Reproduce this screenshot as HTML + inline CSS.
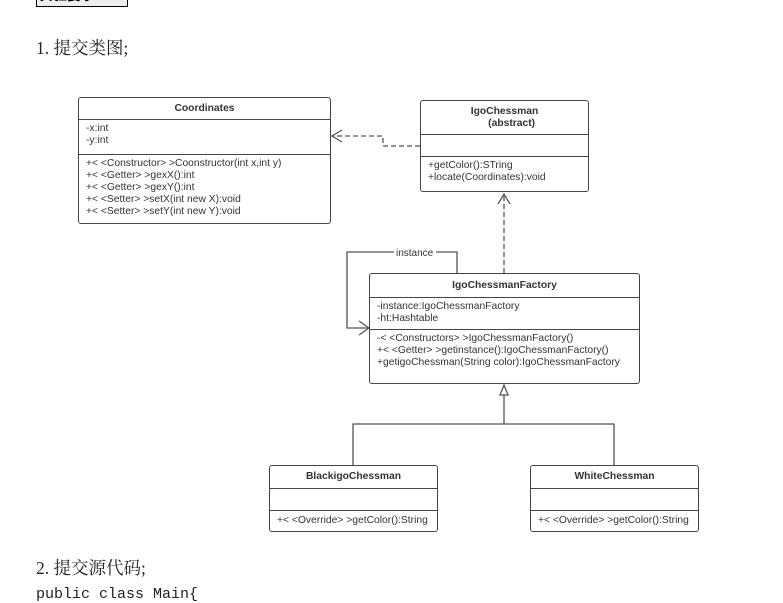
<!DOCTYPE html>
<html><head><meta charset="utf-8"><style>
body{margin:0;width:783px;height:603px;background:#fff;position:relative;overflow:hidden;font-family:"Liberation Sans","Noto Sans CJK SC",sans-serif}
.t{position:absolute;font-family:"Liberation Serif","Noto Serif CJK SC",serif;font-size:17.5px;color:#222;white-space:nowrap}
.b{position:absolute;border:1.3px solid #444;border-radius:3px;background:#fff;box-sizing:border-box;font-size:10.3px;color:#333;white-space:nowrap}
.h{font-weight:bold;text-align:center;border-bottom:1.3px solid #444;box-sizing:border-box;display:flex;align-items:center;justify-content:center;line-height:12px}
.s{border-bottom:1.3px solid #444;box-sizing:border-box;padding:3px 0 0 7px;line-height:11.5px}
.m{padding:3px 0 0 7px;line-height:12px}
</style></head><body>
<div style="position:absolute;left:36px;top:-8px;width:92px;height:15px;border:1px solid #000;background:#eee;font-weight:bold;font-size:14px;line-height:12px;overflow:hidden;padding-left:2px;box-sizing:border-box"><span style="position:relative;top:-4px">实验要求:</span></div>
<div class="t" style="left:36px;top:35px">1. 提交类图;</div>
<div class="t" style="left:36px;top:555px">2. 提交源代码;</div>
<div class="t" style="left:36px;top:586px;font-family:'Liberation Mono',monospace;font-size:15px">public class Main{</div>
<svg style="position:absolute;left:0;top:0" width="783" height="603">
<g fill="none" stroke="#555" stroke-width="1.3">
<path d="M420 146H383V136H332" stroke-dasharray="5,3"/>
<path d="M342 130L332 136L342 142"/>
<path d="M504 273V194" stroke-dasharray="5,3"/>
<path d="M498 204L504 194L510 204"/>
<path d="M457 273V252H347V328H369"/>
<path d="M359 321L369 328L359 335"/>
<path d="M504 395V424H353V465M504 424H614V465"/>
<path d="M504 385L500 395H508Z" fill="#fff"/>
</g>
<rect x="394" y="246" width="42" height="12" fill="#fff"/>
<text x="396" y="256" font-size="10" fill="#333" font-family="Liberation Sans">instance</text>
</svg>
<div class="b" style="left:78px;top:97px;width:253px;height:127px">
<div class="h" style="height:22px">Coordinates</div>
<div class="s" style="height:35px">-x:int<br>-y:int</div>
<div class="m">+&lt; &lt;Constructor&gt; &gt;Coonstructor(int x,int y)<br>+&lt; &lt;Getter&gt; &gt;gexX():int<br>+&lt; &lt;Getter&gt; &gt;gexY():int<br>+&lt; &lt;Setter&gt; &gt;setX(int new X):void<br>+&lt; &lt;Setter&gt; &gt;setY(int new Y):void</div>
</div>
<div class="b" style="left:420px;top:100px;width:169px;height:92px">
<div class="h" style="height:34px">IgoChessman<br>&nbsp;&nbsp;&nbsp;&nbsp;&nbsp;(abstract)</div>
<div class="s" style="height:22px"></div>
<div class="m">+getColor():STring<br>+locate(Coordinates):void</div>
</div>
<div class="b" style="left:369px;top:273px;width:271px;height:111px">
<div class="h" style="height:24px">IgoChessmanFactory</div>
<div class="s" style="height:32px">-instance:IgoChessmanFactory<br>-ht:Hashtable</div>
<div class="m">-&lt; &lt;Constructors&gt; &gt;IgoChessmanFactory()<br>+&lt; &lt;Getter&gt; &gt;getinstance():IgoChessmanFactory()<br>+getigoChessman(String color):IgoChessmanFactory</div>
</div>
<div class="b" style="left:269px;top:465px;width:169px;height:67px">
<div class="h" style="height:23px">BlackigoChessman</div>
<div class="s" style="height:22px"></div>
<div class="m" style="padding-top:4px">+&lt; &lt;Override&gt; &gt;getColor():String</div>
</div>
<div class="b" style="left:530px;top:465px;width:169px;height:67px">
<div class="h" style="height:23px">WhiteChessman</div>
<div class="s" style="height:22px"></div>
<div class="m" style="padding-top:4px">+&lt; &lt;Override&gt; &gt;getColor():String</div>
</div>
</body></html>
